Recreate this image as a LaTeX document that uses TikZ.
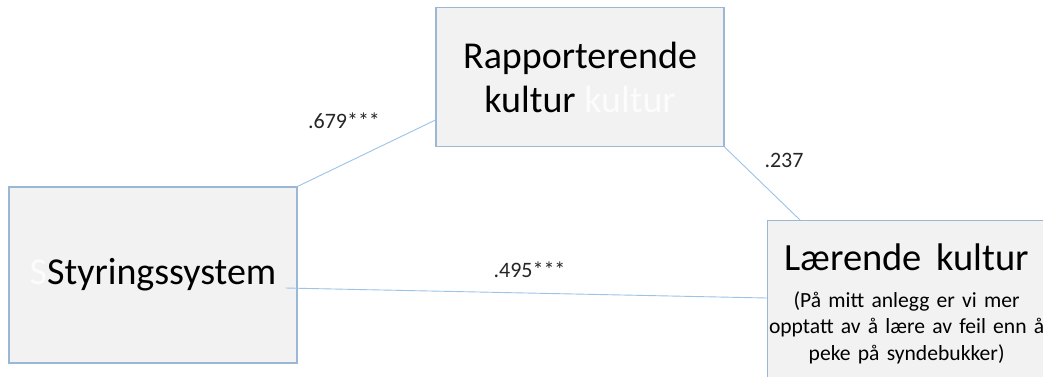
\documentclass[tikz,border=0pt]{standalone}
\usepackage{fontspec}
\setmainfont{Carlito}
\definecolor{boxfill}{HTML}{F2F2F2}
\definecolor{boxline}{RGB}{155,183,214}
\definecolor{linkline}{RGB}{157,195,230}
\definecolor{ghost}{RGB}{252,252,252}
\newcommand{\ctrline}[1]{\makebox[0pt]{#1}}
\tikzset{
  box/.style={draw=boxline, line width=1.2pt, fill=boxfill, rectangle, inner sep=0pt, align=center},
  link/.style={draw=linkline, line width=0.9pt},
  coef/.style={anchor=base, inner sep=0pt, font=\fontsize{22}{26}\selectfont, text=black!85}
}
\begin{document}
\begin{tikzpicture}[x=1pt,y=-1pt]
\clip (0,0) rectangle (1043,376);
\fill[white] (0,0) rectangle (1043,376);
% boxes
\node[box, minimum width=288pt, minimum height=139pt, font=\fontsize{38}{44}\selectfont] (rap) at (580,77)
  {Rapporterende\\kultur {\color{ghost}kultur}};
\node[box, minimum width=288pt, minimum height=176pt, font=\fontsize{38}{44}\selectfont] (sty) at (153,275)
  {{\color{ghost}S}Styringssystem};
\node[box, anchor=north west, text width=278pt, inner ysep=0pt, font=\fontsize{21.6}{26.5}\selectfont] (laer) at (767,220)
  {{\fontsize{38.5}{44}\selectfont\rule{0pt}{50pt}Lærende\hspace{14pt}kultur\par}\vspace{10pt}\ctrline{(På mitt anlegg er vi mer}\\\ctrline{opptatt av å lære av feil enn å}\\\ctrline{peke på syndebukker)}\rule[-40pt]{0pt}{1pt}};
% connectors
\draw[link] (sty.north east) -- ([yshift=-43pt]rap.west);
\draw[link] (rap.south east) -- ([xshift=33pt]laer.north west);
\draw[link] ([xshift=-12pt,yshift=-13pt]sty.east) -- ([yshift=-78pt]laer.north west);
% coefficients
\node[coef] (c1) at (344,128) {.679***};
\node[coef] (c2) at (784,167) {.237};
\node[coef] (c3) at (529.5,277) {.495***};
\end{tikzpicture}
\end{document}
